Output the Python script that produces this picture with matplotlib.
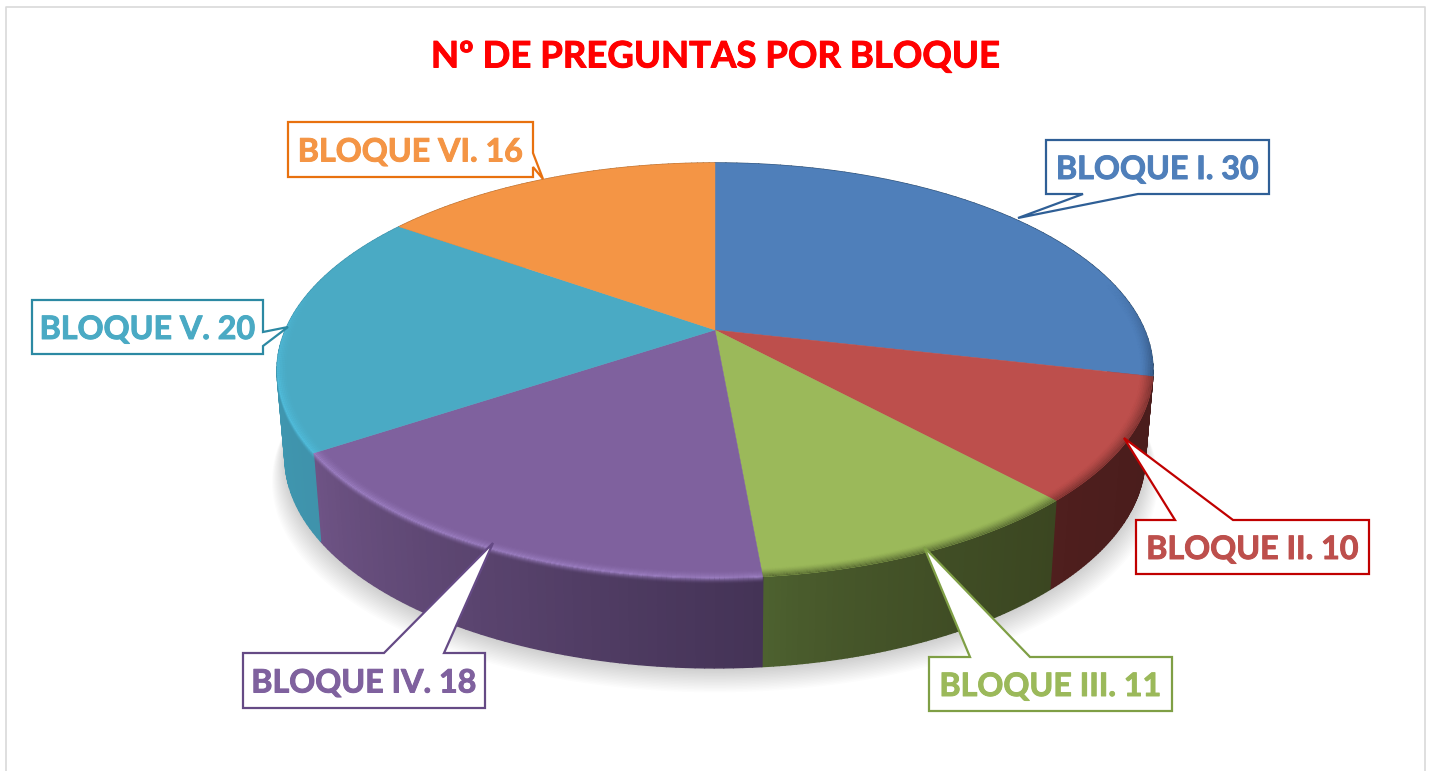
import numpy as np
import matplotlib
matplotlib.use('Agg')
import matplotlib.pyplot as plt
import matplotlib.patheffects as pe
from matplotlib.collections import PolyCollection
from matplotlib.colors import to_rgb

title = 'Nº DE PREGUNTAS POR BLOQUE'
bloques = ['BLOQUE I', 'BLOQUE II', 'BLOQUE III', 'BLOQUE IV', 'BLOQUE V', 'BLOQUE VI']
preguntas = [30, 10, 11, 18, 20, 16]

top_colors = ['#4F7FBA', '#BD4F4C', '#9BB95A', '#7F619E', '#4AAAC4', '#F49545']
edge_colors = ['#2F5F96', '#C00000', '#7F9F45', '#654A85', '#2C89A3', '#E8710F']
wall_left = ['#2A4A6E', '#501F1E', '#4E6230', '#6F5486', '#3F96AF', '#B06A2E']
wall_right = ['#22405F', '#4A1D1C', '#3B4621', '#443356', '#3F8EA6', '#B06A2E']
bevel_colors = ['#2E4C74', '#6E2C2A', '#4A5A2A', '#A184C8', '#52C0E0', '#F49545']

# box x0, x1, y0, y1 and the outline points of the pointer
callouts = [
    (1046, 1269, 140, 194, [(1138, 194), (1018, 218), (1083, 194)], 'bottom'),
    (1136, 1369, 520, 574, [(1175, 520), (1124, 438), (1233, 520)], 'top'),
    (929, 1172, 657, 711, [(970, 657), (924, 547), (1030, 657)], 'top'),
    (243, 485, 653, 708, [(384, 653), (493, 543), (444, 653)], 'top'),
    (32, 263, 300, 354, [(263, 332), (288, 327), (263, 346)], 'right'),
    (288, 533, 122, 177, [(533, 153), (543, 179), (533, 167)], 'right'),
]

CX, CY = 715, 330
R, H, K = 429.6, 199.6, 0.195


def project(theta, r=1.0):
    # pie plane to screen, with the perspective of the 3D chart
    x = r * np.sin(theta)
    y = r * np.cos(theta)
    d = 1 + K * y
    return R * x / d, H * y / d


def top_rim(theta, r=1.0):
    u, v = project(theta, r)
    return CX + u, CY - v


def bottom_rim(theta):
    u, v = project(theta)
    return CX + 0.982 * u, CY + 86 - 1.016 * v


fig = plt.figure(figsize=(14.32, 7.71), dpi=100)
ax = fig.add_axes([0, 0, 1, 1])
ax.set_xlim(0, 1432)
ax.set_ylim(771, 0)
ax.axis('off')

ax.plot([5.5, 5.5, 1424.5, 1424.5], [775, 6.5, 6.5, 775], color='#D9D9D9', lw=1.2, zorder=1)

ax.text(715, 57, title, color='#FF0000', fontsize=26.3, fontweight='bold', family='Lato',
        ha='center', va='center', zorder=10,
        path_effects=[pe.withStroke(linewidth=0.7, foreground='#FF0000')])

edges = np.cumsum([0] + preguntas) / sum(preguntas) * 2 * np.pi

# soft shadow under the pie
t = np.linspace(0, 2 * np.pi, 300)
bx, by = bottom_rim(t)
for i in range(16):
    grow = 1 + 0.002 * i
    ax.fill(CX + (bx - CX) * grow, by + 1.5 * i + 2, color='black', alpha=0.012, lw=0, zorder=2)

# side walls
for i in range(len(preguntas)):
    ts = np.linspace(edges[i], edges[i + 1], 60)
    x0, y0 = top_rim(ts)
    x1, y1 = bottom_rim(ts)
    left = np.array(to_rgb(wall_left[i]))
    right = np.array(to_rgb(wall_right[i]))
    xmin, xmax = x1.min(), x1.max()
    polys = []
    cols = []
    for j in range(len(ts) - 1):
        polys.append([(x0[j], y0[j]), (x0[j + 1], y0[j + 1]), (x1[j + 1], y1[j + 1]), (x1[j], y1[j])])
        f = ((x1[j] + x1[j + 1]) / 2 - xmin) / (xmax - xmin)
        cols.append(left + (right - left) * f ** 0.7)
    ax.add_collection(PolyCollection(polys, facecolors=cols, edgecolors=cols, linewidths=1.0, zorder=3))

# top of each slice
for i in range(len(preguntas)):
    ts = np.linspace(edges[i], edges[i + 1], 120)
    x, y = top_rim(ts)
    ax.fill(np.r_[CX, x], np.r_[CY, y], color=top_colors[i], lw=0.3, zorder=4)

# bevel along the front of the rim
rings = np.linspace(0.972, 1.0, 9)
for i in range(len(preguntas)):
    ts = np.linspace(edges[i], edges[i + 1], 120)
    base = np.array(to_rgb(bevel_colors[i]))
    polys = []
    cols = []
    for a in range(len(rings) - 1):
        for j in range(len(ts) - 1):
            xa, ya = top_rim(ts[j:j + 2], rings[a])
            xb, yb = top_rim(ts[j:j + 2], rings[a + 1])
            polys.append([(xa[0], ya[0]), (xa[1], ya[1]), (xb[1], yb[1]), (xb[0], yb[0])])
            front = np.clip((0.25 - np.cos(ts[j])) / 0.5, 0, 1)
            level = (a + 0.5) / (len(rings) - 1)
            # light bevels get stronger up to the rim, dark ones too but softer
            if i in (3, 4):
                alpha = level ** 2
            else:
                alpha = level ** 1.5
            cols.append((base[0], base[1], base[2], front * alpha * 0.9))
    ax.add_collection(PolyCollection(polys, facecolors=cols, edgecolors='none', zorder=5))

    # light bevels run a few pixels down the wall
    if i in (3, 4):
        x0, y0 = top_rim(ts)
        polys = []
        cols = []
        for a in range(6):
            for j in range(len(ts) - 1):
                polys.append([(x0[j], y0[j] + a), (x0[j + 1], y0[j + 1] + a),
                              (x0[j + 1], y0[j + 1] + a + 1), (x0[j], y0[j] + a + 1)])
                front = np.clip((0.25 - np.cos(ts[j])) / 0.5, 0, 1)
                cols.append((base[0], base[1], base[2], front * 0.8 * (1 - a / 6) ** 2))
        ax.add_collection(PolyCollection(polys, facecolors=cols, edgecolors='none', zorder=5))

# callouts
for i in range(len(preguntas)):
    x0, x1, y0, y1, pointer, side = callouts[i]
    if side == 'top':
        outline = [(x0, y0)] + pointer + [(x1, y0), (x1, y1), (x0, y1)]
    elif side == 'bottom':
        outline = [(x0, y0), (x1, y0), (x1, y1)] + pointer + [(x0, y1)]
    else:
        outline = [(x0, y0), (x1, y0)] + pointer + [(x1, y1), (x0, y1)]
    xs, ys = zip(*outline)
    ax.fill(xs, ys, facecolor='white', edgecolor=edge_colors[i], lw=1.6, joinstyle='miter', zorder=7)
    ax.text((x0 + x1) / 2, (y0 + y1) / 2 + 2.5, f'{bloques[i]}. {preguntas[i]}', color=top_colors[i],
            fontsize=23.2, fontweight='bold', family='Lato', ha='center', va='center', zorder=8,
            path_effects=[pe.withStroke(linewidth=0.7, foreground=top_colors[i])])

fig.savefig('out.png', dpi=100, facecolor='white')
